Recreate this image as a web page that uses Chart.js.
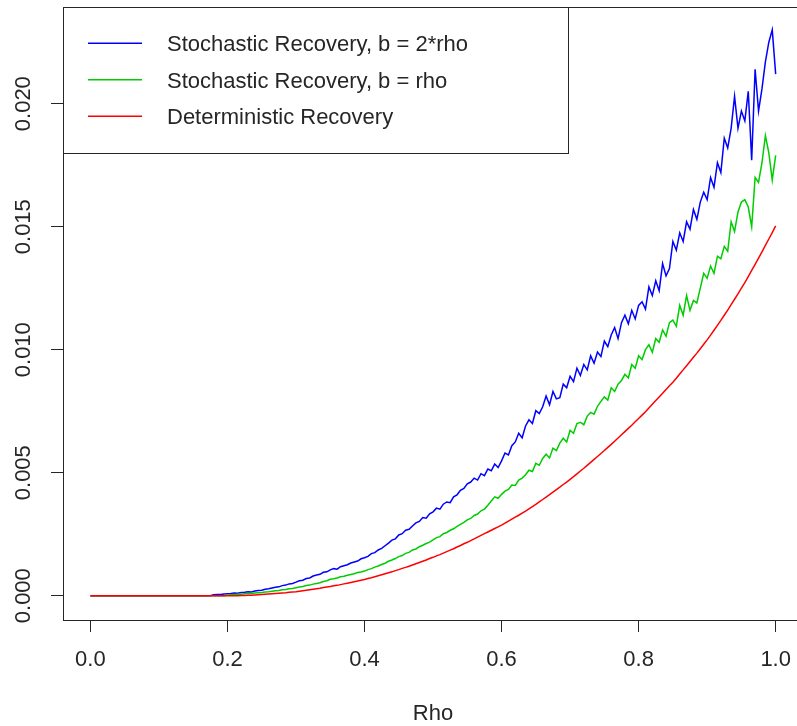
<!DOCTYPE html>
<html><head><meta charset="utf-8">
<script src="https://cdn.jsdelivr.net/npm/chart.js@4"></script>
<style>html,body{margin:0;padding:0;overflow:hidden;background:#fff}canvas{display:block}</style>
</head><body>
<canvas id="c" width="806" height="726"></canvas>
<script>
// ---- data ----
const rho = [
0,0.005,0.01,0.015,0.02,0.025,0.03,0.035,0.04,0.045,
0.05,0.055,0.06,0.065,0.07,0.075,0.08,0.085,0.09,0.095,
0.1,0.105,0.11,0.115,0.12,0.125,0.13,0.135,0.14,0.145,
0.15,0.155,0.16,0.165,0.17,0.175,0.18,0.185,0.19,0.195,
0.2,0.205,0.21,0.215,0.22,0.225,0.23,0.235,0.24,0.245,
0.25,0.255,0.26,0.265,0.27,0.275,0.28,0.285,0.29,0.295,
0.3,0.305,0.31,0.315,0.32,0.325,0.33,0.335,0.34,0.345,
0.35,0.355,0.36,0.365,0.37,0.375,0.38,0.385,0.39,0.395,
0.4,0.405,0.41,0.415,0.42,0.425,0.43,0.435,0.44,0.445,
0.45,0.455,0.46,0.465,0.47,0.475,0.48,0.485,0.49,0.495,
0.5,0.505,0.51,0.515,0.52,0.525,0.53,0.535,0.54,0.545,
0.55,0.555,0.56,0.565,0.57,0.575,0.58,0.585,0.59,0.595,
0.6,0.605,0.61,0.615,0.62,0.625,0.63,0.635,0.64,0.645,
0.65,0.655,0.66,0.665,0.67,0.675,0.68,0.685,0.69,0.695,
0.7,0.705,0.71,0.715,0.72,0.725,0.73,0.735,0.74,0.745,
0.75,0.755,0.76,0.765,0.77,0.775,0.78,0.785,0.79,0.795,
0.8,0.805,0.81,0.815,0.82,0.825,0.83,0.835,0.84,0.845,
0.85,0.855,0.86,0.865,0.87,0.875,0.88,0.885,0.89,0.895,
0.9,0.905,0.91,0.915,0.92,0.925,0.93,0.935,0.94,0.945,
0.95,0.955,0.96,0.965,0.97,0.975,0.98,0.985,0.99,0.995,
1
];

const seriesLabels = [
  'Stochastic Recovery, b = 2*rho',
  'Stochastic Recovery, b = rho',
  'Deterministic Recovery'
];

// Stochastic Recovery, b = 2*rho
const blueVals = [
0,0,0,0,0,0,0,0,0,0,
0,0,0,0,0,0,0,0,0,0,
0,0,0,0,0,0,0,0,0,0,
0,0,0,0,0,0,0.00004,0.00005,0.00005,0.00007,
0.00008,0.00009,0.00011,0.00010,0.00013,0.00014,0.00016,0.00015,0.00019,0.00021,
0.00022,0.00026,0.00028,0.00031,0.00034,0.00036,0.00041,0.00043,0.00048,0.00050,
0.00055,0.00061,0.00063,0.00070,0.00072,0.00080,0.00084,0.00087,0.00095,0.00097,
0.00105,0.00110,0.00108,0.00118,0.00122,0.00126,0.00133,0.00137,0.00141,0.00150,
0.00154,0.00160,0.00171,0.00175,0.00186,0.00192,0.00203,0.00214,0.00226,0.00231,
0.00247,0.00252,0.00266,0.00270,0.00283,0.00296,0.00302,0.00318,0.00315,0.00333,
0.00341,0.00356,0.00352,0.00372,0.00381,0.00378,0.00402,0.00410,0.00428,0.00436,
0.00455,0.00462,0.00478,0.00470,0.00496,0.00488,0.00515,0.00508,0.00535,0.00521,
0.00548,0.00580,0.00572,0.00610,0.00625,0.00660,0.00642,0.00690,0.00715,0.00700,
0.00752,0.00740,0.00768,0.00812,0.00776,0.00830,0.00800,0.00805,0.00860,0.00845,
0.00892,0.00870,0.00925,0.00895,0.00940,0.00918,0.00975,0.00945,0.00990,0.00972,
0.01035,0.01012,0.01060,0.01090,0.01045,0.01110,0.01140,0.01105,0.01160,0.01125,
0.01180,0.01195,0.01165,0.01255,0.01220,0.01280,0.01240,0.01350,0.01300,0.01330,
0.01440,0.01405,0.01475,0.01440,0.01520,0.01490,0.01570,0.01530,0.01600,0.01640,
0.01610,0.01700,0.01660,0.01760,0.01720,0.01860,0.01820,0.01900,0.02030,0.01900,
0.01970,0.01930,0.02050,0.01770,0.02140,0.01970,0.02060,0.02170,0.02250,0.02300,
0.02120
];

// Stochastic Recovery, b = rho
const greenVals = [
0,0,0,0,0,0,0,0,0,0,
0,0,0,0,0,0,0,0,0,0,
0,0,0,0,0,0,0,0,0,0,
0,0,0,0,0,0,0,0,0,0,
0.00003,0.00004,0.00005,0.00006,0.00006,0.00008,0.00009,0.00009,0.00011,0.00012,
0.00013,0.00015,0.00016,0.00018,0.00020,0.00021,0.00024,0.00025,0.00028,0.00029,
0.00032,0.00035,0.00037,0.00041,0.00043,0.00047,0.00050,0.00053,0.00058,0.00061,
0.00067,0.00069,0.00072,0.00077,0.00079,0.00083,0.00086,0.00089,0.00094,0.00096,
0.00100,0.00106,0.00110,0.00116,0.00121,0.00127,0.00132,0.00140,0.00145,0.00151,
0.00159,0.00163,0.00172,0.00176,0.00186,0.00190,0.00199,0.00205,0.00212,0.00218,
0.00227,0.00236,0.00240,0.00252,0.00257,0.00266,0.00272,0.00282,0.00290,0.00298,
0.00308,0.00314,0.00326,0.00332,0.00345,0.00352,0.00368,0.00385,0.00402,0.00396,
0.00412,0.00425,0.00432,0.00450,0.00448,0.00470,0.00478,0.00492,0.00510,0.00505,
0.00538,0.00530,0.00558,0.00575,0.00560,0.00600,0.00590,0.00620,0.00640,0.00625,
0.00672,0.00660,0.00700,0.00705,0.00695,0.00730,0.00745,0.00738,0.00770,0.00790,
0.00808,0.00795,0.00845,0.00830,0.00860,0.00875,0.00900,0.00885,0.00940,0.00925,
0.00975,0.00960,0.01000,0.01020,0.00990,0.01045,0.01030,0.01080,0.01055,0.01110,
0.01120,0.01095,0.01180,0.01140,0.01220,0.01160,0.01200,0.01190,0.01250,0.01310,
0.01290,0.01340,0.01310,0.01380,0.01370,0.01420,0.01400,0.01520,0.01480,0.01560,
0.01600,0.01610,0.01580,0.01500,0.01700,0.01680,0.01760,0.01870,0.01800,0.01690,
0.01790
];

// Deterministic Recovery
const redVals = [
0,0,0,0,0,0,0,0,0,0,
0,0,0,0,0,0,0,0,0,0,
0,0,0,0,0,0,0,0,0,0,
0,0,0,0,0,0,0,0,0,0,
0,0,0,0,0.00001,0.00001,0.00002,0.00002,0.00003,0.00004,
0.00005,0.00006,0.00007,0.00008,0.00009,0.00010,0.00011,0.00012,0.00014,0.00015,
0.00016,0.00018,0.00020,0.00022,0.00024,0.00026,0.00028,0.00030,0.00033,0.00035,
0.00037,0.00040,0.00042,0.00045,0.00048,0.00051,0.00054,0.00057,0.00060,0.00063,
0.00066,0.00070,0.00073,0.00077,0.00081,0.00085,0.00089,0.00093,0.00097,0.00102,
0.00106,0.00111,0.00115,0.00120,0.00125,0.00130,0.00135,0.00140,0.00145,0.00151,
0.00156,0.00162,0.00167,0.00173,0.00179,0.00185,0.00191,0.00198,0.00204,0.00211,
0.00217,0.00224,0.00231,0.00238,0.00245,0.00252,0.00259,0.00266,0.00273,0.00280,
0.00287,0.00295,0.00303,0.00311,0.00319,0.00327,0.00336,0.00344,0.00353,0.00362,
0.00371,0.00381,0.00391,0.00401,0.00411,0.00421,0.00431,0.00441,0.00452,0.00462,
0.00473,0.00484,0.00495,0.00507,0.00518,0.00530,0.00542,0.00554,0.00566,0.00578,
0.00590,0.00603,0.00615,0.00628,0.00641,0.00654,0.00667,0.00680,0.00693,0.00707,
0.00720,0.00734,0.00748,0.00763,0.00778,0.00793,0.00808,0.00823,0.00838,0.00853,
0.00868,0.00884,0.00901,0.00918,0.00935,0.00952,0.00969,0.00986,0.01004,0.01022,
0.01040,0.01059,0.01079,0.01099,0.01119,0.01140,0.01161,0.01183,0.01205,0.01227,
0.01250,0.01273,0.01297,0.01322,0.01347,0.01372,0.01398,0.01424,0.01450,0.01476,
0.01503
];

const xTicks = [0, 0.2, 0.4, 0.6, 0.8, 1.0];
const yTicks = [0, 0.005, 0.010, 0.015, 0.020];
const xTitle = 'Rho';

// ---- styling ----
const FONT = "'Liberation Sans', Arial, sans-serif";
const INK = '#262626';
const colors = ['#0000FF', '#00CD00', '#FF0000'];
function pts(vals) { return vals.map((v, i) => ({ x: rho[i], y: v })); }

const framePlugin = {
  id: 'frame',
  afterDraw(chart) {
    const { ctx, chartArea: a, scales: { y } } = chart;
    ctx.save();
    ctx.strokeStyle = INK; ctx.lineWidth = 1;
    const L = Math.round(a.left) + 0.5, T = Math.round(a.top) + 0.5;
    ctx.strokeRect(L, T, Math.round(a.right - a.left), Math.round(a.bottom - a.top));
    // rotated y tick labels
    ctx.fillStyle = INK; ctx.font = '22px ' + FONT;
    ctx.textAlign = 'center'; ctx.textBaseline = 'middle';
    yTicks.forEach(v => {
      const py = y.getPixelForValue(v);
      ctx.save(); ctx.translate(24, py); ctx.rotate(-Math.PI / 2);
      ctx.fillText(v.toFixed(3), 0, 0); ctx.restore();
    });
    // legend box
    const lw = 505, lh = 146;
    ctx.fillStyle = '#fff'; ctx.fillRect(L + 0.5, T + 0.5, lw - 1, lh - 1);
    ctx.strokeStyle = INK; ctx.lineWidth = 1;
    ctx.strokeRect(L, T, lw, lh);
    chart.data.datasets.forEach((ds, i) => {
      const yy = a.top + 36.3 + i * 36.5;
      ctx.strokeStyle = ds.borderColor; ctx.lineWidth = 1.5;
      ctx.beginPath(); ctx.moveTo(a.left + 25, yy); ctx.lineTo(a.left + 79, yy); ctx.stroke();
      ctx.fillStyle = INK; ctx.textAlign = 'left'; ctx.textBaseline = 'middle';
      ctx.fillText(ds.label, a.left + 104, yy + 2);
    });
    ctx.restore();
  }
};

new Chart(document.getElementById('c'), {
  type: 'line',
  data: {
    datasets: [
      { label: seriesLabels[0], data: pts(blueVals), borderColor: colors[0], order: 2 },
      { label: seriesLabels[1], data: pts(greenVals), borderColor: colors[1], order: 1 },
      { label: seriesLabels[2], data: pts(redVals), borderColor: colors[2], order: 0 }
    ]
  },
  options: {
    responsive: false, animation: false, devicePixelRatio: 1,
    layout: { padding: { top: 7, right: 1, left: 0, bottom: 0 } },
    elements: { point: { radius: 0 }, line: { borderWidth: 1.5, tension: 0 } },
    plugins: { legend: { display: false }, tooltip: { enabled: false } },
    scales: {
      x: {
        type: 'linear', min: -0.04, max: 1.04,
        afterBuildTicks: s => { s.ticks = xTicks.map(v => ({ value: v })); },
        afterFit: s => { s.height = 106; },
        grid: { drawOnChartArea: false, drawTicks: true, tickLength: 12, color: INK },
        border: { display: false },
        ticks: { callback: v => Number(v).toFixed(1), font: { family: FONT, size: 22 }, color: INK, padding: 15, maxRotation: 0, autoSkip: false },
        title: { display: true, text: xTitle, font: { family: FONT, size: 22, lineHeight: 1.1 }, color: INK, padding: 0 }
      },
      y: {
        type: 'linear', min: -0.000988, max: 0.02393,
        afterBuildTicks: s => { s.ticks = yTicks.map(v => ({ value: v })); },
        afterFit: s => { s.width = 63; },
        grid: { drawOnChartArea: false, drawTicks: true, tickLength: 12, color: INK },
        border: { display: false },
        ticks: { display: false }
      }
    }
  },
  plugins: [framePlugin]
});
</script>
</body></html>
